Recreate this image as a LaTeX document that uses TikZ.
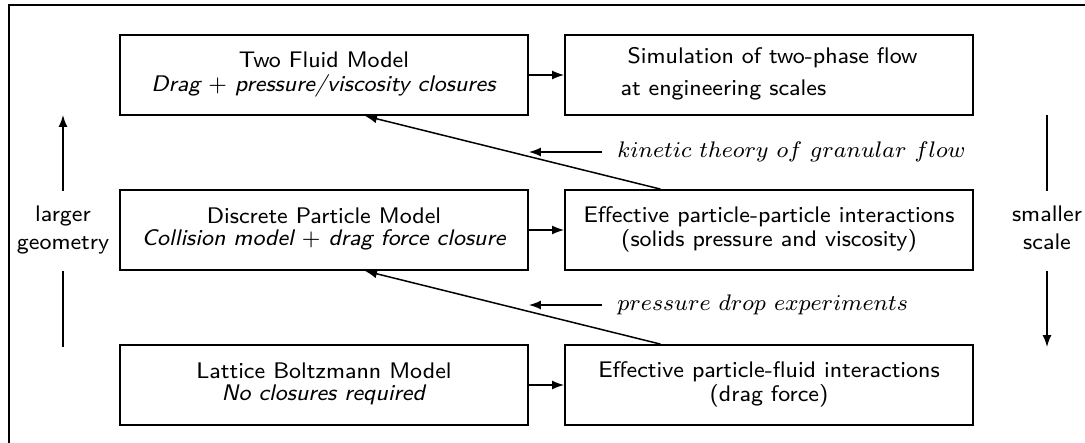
\documentclass[tikz,border=0pt]{standalone}
\usetikzlibrary{arrows.meta,calc}
% text is set at 8pt and enlarged, so that the wider small-size cut is used
\newcommand{\lbl}[2][c]{\scalebox{1.41}{\fontsize{8}{7.8}\selectfont\begin{tabular}{@{}#1@{}}#2\end{tabular}}}
\newcommand{\srclbl}[1]{\scalebox{1.41}{\fontsize{8}{8}\selectfont$#1$}}
\begin{document}
\begin{tikzpicture}[x=0.5pt,y=-0.5pt,
  font=\sffamily,
  model/.style={draw,line width=0.9pt,minimum width=204pt,minimum height=40pt,inner sep=0pt},
  arr/.style={line width=0.75pt,-{Latex[length=6pt,width=4.5pt]}},
  plain/.style={line width=0.7pt},
  side/.style={minimum height=40pt,inner sep=0pt},
  source/.style={anchor=west,inner xsep=7.5pt,inner ysep=0pt}]
\useasboundingbox (0,0) rectangle (1085,443);
% frame
\draw[line width=1.2pt] (9,450) -- (9,5) -- (1090,5);

% models (left) and what they provide (right)
\node[model] (tfm) at (324,75) {\lbl{Two Fluid Model\\\textit{Drag $+$ pressure/viscosity closures}}};
\node[model] (sim) at (769,75) {\lbl[l]{\hspace*{2.5pt}Simulation of two-phase flow\\[3.5pt]at engineering scales}};
\node[model] (dpm) at (324,230) {\lbl{Discrete Particle Model\\\textit{Collision model $+$ drag force closure}}};
\node[model] (pp) at (769,230) {\lbl{Effective particle-particle interactions\\(solids pressure and viscosity)}};
\node[model] (lbm) at (324,385) {\lbl{Lattice Boltzmann Model\\\textit{No closures required}}};
\node[model] (pf) at (769,385) {\lbl{Effective particle-fluid interactions\\(drag force)}};

\draw[arr] (tfm.east) -- (sim.west);
\draw[arr] (dpm.east) -- (pp.west);
\draw[arr] (lbm.east) -- (pf.west);

% closures passed up one level
\draw[arr] ($(pp.north west)!0.235!(pp.north east)$) -- ($(tfm.south west)!0.6!(tfm.south east)$);
\draw[arr] ($(pf.north west)!0.235!(pf.north east)$) -- ($(dpm.south west)!0.6!(dpm.south east)$);

% alternative sources of the closures
\node[source] (ktg) at (602,152) {\srclbl{kinetic\ theory\ of\ granular\ flow}};
\draw[arr] (ktg.west) -- (ktg.west -| tfm.east);
\node[source] (pde) at (602,305) {\srclbl{pressure\ drop\ experiments}};
\draw[arr] (pde.west) -- (pde.west -| dpm.east);

% scale axes
\node[side] (lg) at (63,231) {\lbl{larger\\[2pt]geometry}};
\coordinate (lgtop) at (63,115);
\coordinate (lgbot) at (63,347);
\draw[arr] (lg.north) -- (lgtop);
\draw[plain] (lgbot) -- (lg.south);

\node[side] (sm) at (1047,231) {\lbl{smaller\\[2pt]scale}};
\coordinate (smtop) at (1047,115);
\coordinate (smbot) at (1047,347);
\draw[plain] (smtop) -- (sm.north);
\draw[arr] (sm.south) -- (smbot);
\end{tikzpicture}
\end{document}
